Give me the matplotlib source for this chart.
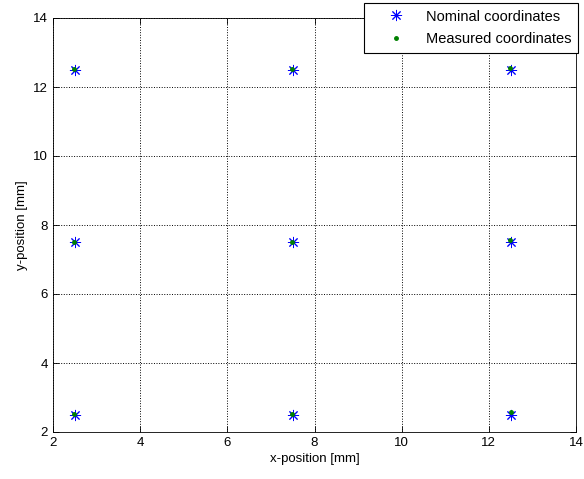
import numpy as np
import matplotlib.pyplot as plt

plt.rcParams['font.family'] = ['Liberation Sans', 'DejaVu Sans']
plt.rcParams['font.size'] = 9.5

# nominal grid of holes
nom_x = [2.5, 7.5, 12.5, 2.5, 7.5, 12.5, 2.5, 7.5, 12.5]
nom_y = [12.5, 12.5, 12.5, 7.5, 7.5, 7.5, 2.5, 2.5, 2.5]
# measured positions
meas_x = [2.49, 7.49, 12.49, 2.49, 7.49, 12.49, 2.49, 7.49, 12.5]
meas_y = [12.53, 12.53, 12.55, 7.51, 7.52, 7.57, 2.52, 2.52, 2.57]

fig = plt.figure(figsize=(5.84, 4.79), dpi=100)
ax = fig.add_axes([53 / 584, 47 / 479, 523 / 584, 414 / 479])

ax.plot(nom_x, nom_y, linestyle='none', marker=(8, 2, 0), color='blue',
        markersize=8, markeredgewidth=0.7, label='Nominal coordinates')
ax.plot(meas_x, meas_y, '.', color=(0, 0.5, 0), markersize=5,
        label='Measured coordinates')

ax.set_xlim(2, 14)
ax.set_ylim(2, 14)
ax.set_xticks(np.arange(2, 15, 2))
ax.set_yticks(np.arange(2, 15, 2))
ax.grid(True, linestyle=':', color='black', linewidth=0.7)
ax.tick_params(direction='in', top=True, right=True, length=4, width=0.6)
for s in ax.spines.values():
    s.set_linewidth(0.6)
ax.set_xlabel('x-position [mm]', labelpad=3)
ax.set_ylabel('y-position [mm]', labelpad=4)

leg = ax.legend(loc='upper right', bbox_to_anchor=(578 / 584, 1 - 3 / 479),
                bbox_transform=fig.transFigure, fancybox=False,
                edgecolor='black', framealpha=1, borderaxespad=0,
                borderpad=0.45, handlelength=3.5, handletextpad=0.3,
                labelspacing=0.6, fontsize=10.5)
leg.get_frame().set_linewidth(0.8)

fig.savefig('out.png', dpi=100)
